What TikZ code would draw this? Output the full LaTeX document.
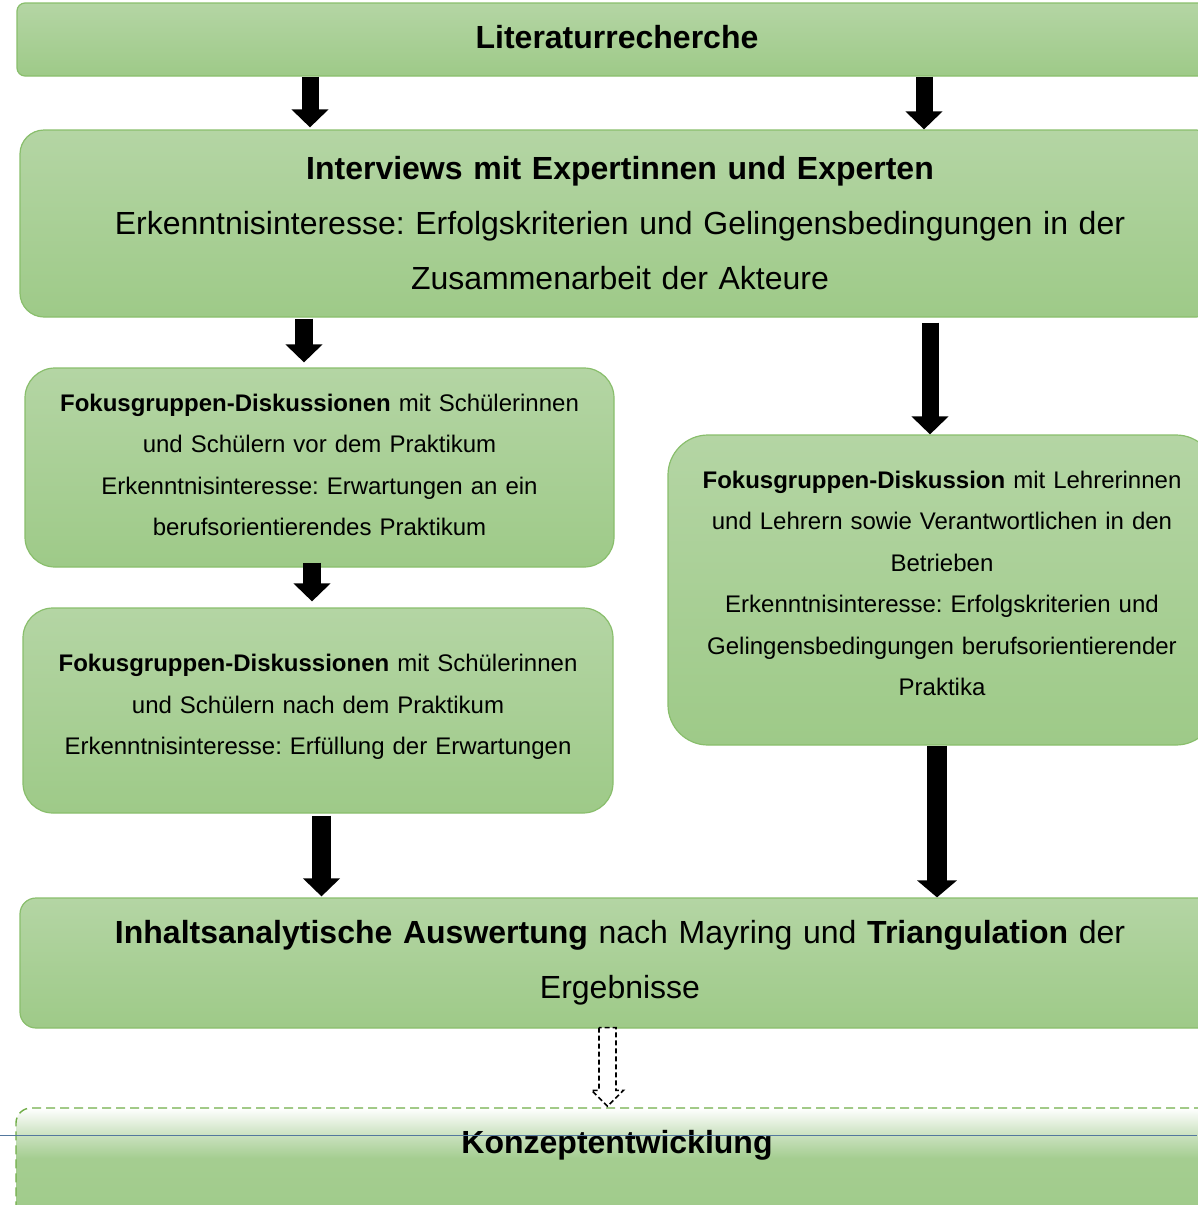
\documentclass[tikz,border=0pt]{standalone}
\usepackage{fontspec}
\setmainfont{Liberation Sans}
\usetikzlibrary{arrows.meta,calc}
\frenchspacing
\definecolor{gtop}{RGB}{180,213,164}
\definecolor{gbot}{RGB}{158,202,136}
\definecolor{gborder}{RGB}{137,190,108}
\definecolor{gdash}{RGB}{112,173,71}
\definecolor{blueline}{RGB}{84,120,158}
\pgfdeclareverticalshading{konzshade}{100bp}{color(0bp)=(gbot); color(25bp)=(gbot); color(56bp)=(gbot!70!gtop); color(64bp)=(gtop!75!white); color(75bp)=(white); color(100bp)=(white)}
\tikzset{
  gbox/.style={draw=gborder, line width=1.2pt, top color=gtop, bottom color=gbot, inner sep=0pt, align=center},
  bigfont/.style={font=\fontsize{32}{55}\selectfont},
  smallfont/.style={font=\fontsize{24}{41.5}\selectfont},
  bigarrow/.style={line width=#1, -{Triangle[width=36pt,length=18pt]}},
  bigarrow/.default=18pt,
}
\begin{document}
\begin{tikzpicture}[x=1pt,y=1pt]
\useasboundingbox (0,0) rectangle (1197,-1205);

% boxes
\node[gbox, bigfont, rounded corners=8pt, minimum width=1200pt, minimum height=73pt, text width=1100pt] (lit) at (617,-39.5) {\raisebox{5pt}{\textbf{Literaturrecherche}}};

\node[gbox, bigfont, rounded corners=24pt, minimum width=1200pt, minimum height=187pt, text width=1100pt] (int) at (620,-223.5)
  {\textbf{Interviews mit Expertinnen und Experten}\\
   Erkenntnisinteresse: Erfolgskriterien und Gelingensbedingungen in der\\
   Zusammenarbeit der Akteure};

\node[gbox, smallfont, rounded corners=30pt, minimum width=589pt, minimum height=199pt, text width=570pt] (fg1) at (319.5,-467.5)
  {\textbf{Fokusgruppen-Diskussionen} mit Schülerinnen\\
   und Schülern vor dem Praktikum\\
   Erkenntnisinteresse: Erwartungen an ein\\
   berufsorientierendes Praktikum\\[-36pt]\mbox{}};

\node[gbox, smallfont, rounded corners=30pt, minimum width=590pt, minimum height=205pt, text width=570pt] (fg2) at (318,-710.5)
  {\textbf{Fokusgruppen-Diskussionen} mit Schülerinnen\\
   und Schülern nach dem Praktikum\\
   Erkenntnisinteresse: Erfüllung der Erwartungen\\[-30pt]\mbox{}};

\node[gbox, smallfont, rounded corners=40pt, minimum width=548pt, minimum height=310pt, text width=530pt] (fg3) at (942,-590)
  {\textbf{Fokusgruppen-Diskussion} mit Lehrerinnen\\
   und Lehrern sowie Verantwortlichen in den\\
   Betrieben\\
   Erkenntnisinteresse: Erfolgskriterien und\\
   Gelingensbedingungen berufsorientierender\\
   Praktika\\[-28pt]\mbox{}};

\node[gbox, bigfont, rounded corners=16pt, minimum width=1200pt, minimum height=130pt, text width=1100pt] (ausw) at (620,-963)
  {\textbf{Inhaltsanalytische Auswertung} nach Mayring und \textbf{Triangulation} der\\
   Ergebnisse};

\node[draw=gdash, line width=1.4pt, dash pattern=on 9pt off 5pt, rounded corners=15pt, shading=konzshade, minimum width=1202pt, minimum height=132pt] (konz) at (617,-1174) {};
\node[bigfont, inner sep=0pt] (konzt) at (617,-1145) {\textbf{Konzeptentwicklung}};

% blue line
\draw[blueline, line width=1.6pt] (0,-1135.5) -- (1197,-1135.5);

% arrows
\draw[bigarrow=17pt] (lit.south -| 310,0) -- ([yshift=2pt]int.north -| 310,0);
\draw[bigarrow=17pt] (lit.south -| 924,0) -- (int.north -| 924,0);
\draw[bigarrow=18pt, shorten <=1pt, shorten >=5pt] (int.south -| 304,0) -- (fg1.north -| 304,0);
\draw[bigarrow=17pt, shorten <=5pt] (int.south -| 930,0) -- (fg3.north -| 930,0);
\draw[bigarrow=18pt, shorten <=-5pt, shorten >=6pt] (fg1.south -| 312,0) -- (fg2.north -| 312,0);
\draw[bigarrow=19pt, shorten <=2pt, shorten >=1pt] (fg2.south -| 321.5,0) -- (ausw.north -| 321.5,0);
\draw[line width=20pt, -{Triangle[width=39pt,length=17pt]}] (fg3.south -| 937,0) -- (ausw.north -| 937,0);

% dashed hollow arrow
\coordinate (dtop) at (ausw.south -| 607.5,0);
\coordinate (dtip) at ([yshift=1pt]konz.north -| 607.5,0);
\draw[line width=1.6pt, dash pattern=on 5pt off 3pt, fill=white]
  ($(dtop)+(-8.5,1)$) -- ($(dtip)+(-8.5,16)$) -- ($(dtip)+(-16,16)$) -- (dtip)
  -- ($(dtip)+(16,16)$) -- ($(dtip)+(8.5,16)$) -- ($(dtop)+(8.5,1)$) -- cycle;
\end{tikzpicture}
\end{document}
